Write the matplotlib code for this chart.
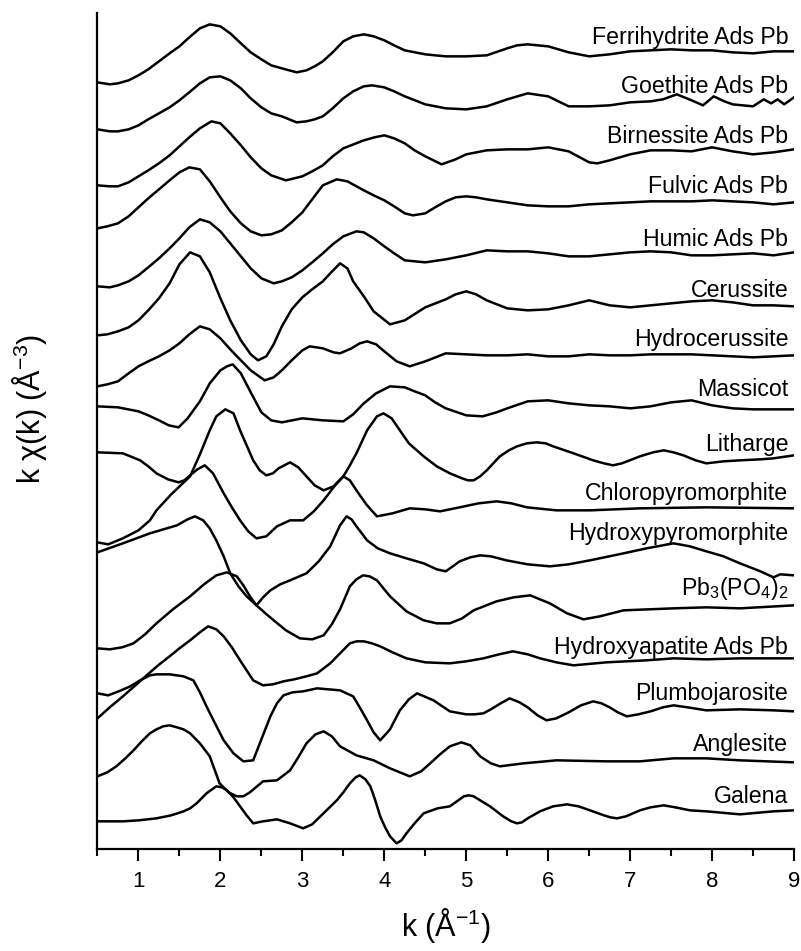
import matplotlib
matplotlib.use("Agg")
import matplotlib.pyplot as plt
from matplotlib.ticker import MultipleLocator

plt.rcParams["font.family"] = ["Liberation Sans", "DejaVu Sans"]
plt.rcParams["mathtext.default"] = "regular"

# stacked k*chi(k) spectra (arbitrary units, offsets included)
ferri_k = [0.5, 0.65, 0.75, 0.88, 1.0, 1.12, 1.25, 1.38, 1.5, 1.62, 1.75, 1.87, 2.0, 2.12, 2.25, 2.37, 2.5, 2.62, 2.75, 2.93,
           3.05, 3.15, 3.25, 3.37, 3.5, 3.62, 3.75, 3.87, 4.0, 4.12, 4.25, 4.5, 4.75, 5.0, 5.25, 5.5, 5.62, 5.75, 5.87, 6.0,
           6.25, 6.5, 6.75, 7.0, 7.25, 7.5, 7.75, 8.0, 8.25, 8.5, 8.75, 9.0]
ferri_y = [7.67, 7.65, 7.66, 7.69, 7.74, 7.80, 7.88, 7.96, 8.03, 8.12, 8.21, 8.25, 8.23, 8.16, 8.06, 7.97, 7.90, 7.84, 7.81, 7.77,
           7.79, 7.83, 7.88, 7.97, 8.08, 8.13, 8.15, 8.13, 8.09, 8.04, 7.99, 7.95, 7.93, 7.93, 7.94, 8.01, 8.04, 8.05, 8.04, 8.03,
           7.97, 7.93, 7.95, 7.98, 7.99, 8.00, 7.99, 7.99, 7.97, 7.96, 7.98, 7.98]

goeth_k = [0.5, 0.65, 0.75, 0.88, 1.0, 1.12, 1.25, 1.38, 1.5, 1.62, 1.75, 1.87, 2.0, 2.12, 2.25, 2.37, 2.5, 2.62, 2.75, 2.93,
           3.05, 3.15, 3.25, 3.37, 3.5, 3.62, 3.75, 3.85, 4.0, 4.12, 4.25, 4.5, 4.75, 5.0, 5.25, 5.5, 5.75, 6.0, 6.25, 6.5,
           6.75, 7.0, 7.25, 7.4, 7.57, 7.75, 7.89, 8.02, 8.15, 8.25, 8.5, 8.63, 8.72, 8.8, 8.88, 9.0]
goeth_y = [7.20, 7.18, 7.18, 7.20, 7.24, 7.30, 7.36, 7.42, 7.49, 7.57, 7.66, 7.72, 7.73, 7.69, 7.61, 7.51, 7.42, 7.36, 7.33, 7.27,
           7.28, 7.30, 7.33, 7.41, 7.51, 7.58, 7.63, 7.64, 7.62, 7.58, 7.53, 7.45, 7.41, 7.40, 7.43, 7.50, 7.56, 7.53, 7.43, 7.43,
           7.44, 7.47, 7.48, 7.50, 7.55, 7.49, 7.44, 7.53, 7.48, 7.45, 7.43, 7.50, 7.46, 7.50, 7.45, 7.52]

birn_k = [0.5, 0.65, 0.75, 0.88, 1.0, 1.12, 1.25, 1.38, 1.5, 1.62, 1.75, 1.89, 2.0, 2.12, 2.25, 2.37, 2.5, 2.62, 2.8, 3.0,
          3.12, 3.25, 3.37, 3.5, 3.75, 3.88, 4.0, 4.12, 4.25, 4.37, 4.5, 4.7, 4.87, 5.0, 5.25, 5.5, 5.75, 6.0, 6.25, 6.5,
          6.6, 6.75, 7.0, 7.25, 7.5, 7.75, 8.0, 8.25, 8.5, 8.75, 9.0]
birn_y = [6.64, 6.63, 6.63, 6.67, 6.73, 6.79, 6.86, 6.94, 7.03, 7.12, 7.21, 7.28, 7.26, 7.16, 7.04, 6.92, 6.81, 6.74, 6.69, 6.73,
          6.78, 6.84, 6.93, 7.01, 7.09, 7.12, 7.14, 7.11, 7.06, 6.99, 6.93, 6.85, 6.90, 6.95, 6.99, 7.00, 7.00, 7.02, 6.98, 6.87,
          6.86, 6.89, 6.95, 6.99, 6.99, 6.98, 7.02, 6.98, 6.95, 6.97, 7.00]

fulvic_k = [0.5, 0.62, 0.75, 0.88, 1.0, 1.12, 1.25, 1.38, 1.5, 1.62, 1.75, 1.87, 2.0, 2.12, 2.25, 2.37, 2.5, 2.62, 2.75, 2.87,
            3.0, 3.12, 3.25, 3.42, 3.55, 3.75, 3.87, 4.0, 4.12, 4.25, 4.35, 4.5, 4.62, 4.75, 4.87, 5.0, 5.12, 5.25, 5.5, 5.75,
            6.0, 6.25, 6.5, 6.75, 7.0, 7.25, 7.5, 7.75, 8.0, 8.25, 8.5, 8.75, 9.0]
fulvic_y = [6.21, 6.23, 6.26, 6.33, 6.42, 6.51, 6.60, 6.69, 6.77, 6.82, 6.80, 6.68, 6.52, 6.38, 6.26, 6.18, 6.14, 6.15, 6.19, 6.27,
            6.37, 6.50, 6.64, 6.70, 6.68, 6.59, 6.54, 6.49, 6.43, 6.36, 6.34, 6.36, 6.42, 6.48, 6.52, 6.53, 6.52, 6.50, 6.47, 6.44,
            6.43, 6.43, 6.45, 6.46, 6.47, 6.48, 6.48, 6.48, 6.49, 6.48, 6.47, 6.45, 6.47]

humic_k = [0.5, 0.65, 0.75, 0.88, 1.0, 1.12, 1.25, 1.38, 1.5, 1.62, 1.75, 1.87, 2.0, 2.12, 2.25, 2.37, 2.5, 2.65, 2.75, 2.87,
           3.0, 3.12, 3.25, 3.37, 3.5, 3.66, 3.75, 3.87, 4.0, 4.12, 4.25, 4.5, 4.75, 5.0, 5.25, 5.5, 5.75, 6.0, 6.25, 6.5,
           6.75, 7.0, 7.25, 7.5, 7.75, 8.0, 8.25, 8.5, 8.75, 9.0]
humic_y = [5.63, 5.62, 5.64, 5.68, 5.74, 5.82, 5.91, 6.01, 6.11, 6.22, 6.30, 6.27, 6.18, 6.06, 5.93, 5.81, 5.71, 5.66, 5.68, 5.72,
           5.79, 5.87, 5.96, 6.05, 6.13, 6.18, 6.17, 6.11, 6.03, 5.96, 5.89, 5.87, 5.90, 5.94, 5.99, 5.98, 5.98, 5.96, 5.93, 5.93,
           5.95, 5.97, 5.98, 5.97, 5.94, 5.94, 5.95, 5.96, 5.94, 5.97]

ceru_k = [0.5, 0.62, 0.75, 0.88, 1.0, 1.12, 1.25, 1.38, 1.5, 1.63, 1.75, 1.87, 2.0, 2.12, 2.25, 2.37, 2.46, 2.56, 2.65, 2.75,
          2.87, 3.0, 3.12, 3.25, 3.34, 3.46, 3.55, 3.62, 3.75, 3.87, 4.07, 4.25, 4.5, 4.75, 4.87, 5.0, 5.12, 5.25, 5.5, 5.75,
          6.0, 6.25, 6.5, 6.75, 7.0, 7.25, 7.5, 7.75, 8.0, 8.25, 8.5, 8.75, 9.0]
ceru_y = [5.14, 5.15, 5.18, 5.22, 5.29, 5.39, 5.51, 5.66, 5.85, 5.97, 5.93, 5.77, 5.51, 5.29, 5.09, 4.95, 4.89, 4.93, 5.05, 5.23,
          5.40, 5.52, 5.60, 5.68, 5.76, 5.86, 5.81, 5.68, 5.53, 5.38, 5.25, 5.29, 5.42, 5.50, 5.55, 5.58, 5.55, 5.49, 5.41, 5.39,
          5.40, 5.44, 5.49, 5.44, 5.42, 5.44, 5.46, 5.48, 5.49, 5.47, 5.44, 5.44, 5.43]

hceru_k = [0.5, 0.62, 0.75, 0.88, 1.0, 1.12, 1.25, 1.38, 1.5, 1.62, 1.75, 1.87, 2.0, 2.12, 2.25, 2.37, 2.54, 2.65, 2.75, 2.87,
           3.0, 3.09, 3.25, 3.38, 3.46, 3.6, 3.7, 3.79, 3.9, 4.0, 4.15, 4.31, 4.5, 4.75, 5.0, 5.25, 5.5, 5.75, 6.0, 6.25,
           6.5, 6.75, 7.0, 7.25, 7.5, 7.75, 8.0, 8.25, 8.5, 8.75, 9.0]
hceru_y = [4.63, 4.65, 4.68, 4.76, 4.83, 4.88, 4.93, 4.99, 5.06, 5.15, 5.23, 5.20, 5.11, 5.00, 4.89, 4.79, 4.69, 4.72, 4.79, 4.89,
           4.99, 5.03, 5.01, 4.97, 4.96, 5.01, 5.06, 5.08, 5.05, 4.98, 4.88, 4.83, 4.88, 4.96, 4.95, 4.94, 4.94, 4.95, 4.93, 4.93,
           4.95, 4.94, 4.94, 4.95, 4.95, 4.95, 4.94, 4.93, 4.92, 4.93, 4.94]

massi_k = [0.5, 0.75, 1.0, 1.12, 1.25, 1.37, 1.49, 1.6, 1.75, 1.87, 2.0, 2.08, 2.15, 2.25, 2.37, 2.5, 2.62, 2.75, 3.0, 3.25,
           3.5, 3.62, 3.75, 3.9, 4.07, 4.25, 4.37, 4.5, 4.62, 4.75, 5.0, 5.2, 5.37, 5.5, 5.75, 6.0, 6.25, 6.5, 6.75, 7.0,
           7.25, 7.5, 7.75, 8.0, 8.25, 8.5, 8.75, 9.0]
massi_y = [4.43, 4.42, 4.38, 4.34, 4.29, 4.24, 4.22, 4.31, 4.48, 4.66, 4.79, 4.83, 4.85, 4.76, 4.57, 4.37, 4.29, 4.27, 4.31, 4.29,
           4.28, 4.35, 4.46, 4.56, 4.63, 4.62, 4.58, 4.54, 4.47, 4.41, 4.34, 4.33, 4.37, 4.41, 4.48, 4.49, 4.46, 4.44, 4.43, 4.41,
           4.43, 4.47, 4.49, 4.44, 4.41, 4.40, 4.40, 4.40]

lith_k = [0.5, 0.63, 0.81, 1.0, 1.14, 1.22, 1.4, 1.63, 1.75, 1.87, 1.95, 2.06, 2.16, 2.24, 2.32, 2.4, 2.48, 2.56, 2.64, 2.71,
          2.85, 2.95, 3.05, 3.15, 3.26, 3.38, 3.5, 3.58, 3.66, 3.79, 3.91, 3.99, 4.09, 4.19, 4.3, 4.48, 4.64, 4.8, 4.95, 5.02,
          5.09, 5.17, 5.25, 5.41, 5.52, 5.62, 5.74, 5.86, 5.97, 6.06, 6.31, 6.55, 6.68, 6.79, 6.9, 7.12, 7.28, 7.41, 7.53, 7.65,
          7.8, 7.93, 8.14, 8.34, 8.59, 8.75, 9.0]
lith_y = [3.07, 3.05, 3.11, 3.19, 3.29, 3.39, 3.55, 3.73, 3.95, 4.19, 4.33, 4.40, 4.36, 4.19, 4.04, 3.89, 3.79, 3.74, 3.76, 3.81,
          3.87, 3.82, 3.73, 3.64, 3.59, 3.63, 3.73, 3.84, 3.96, 4.19, 4.33, 4.36, 4.31, 4.19, 4.06, 3.93, 3.83, 3.76, 3.71, 3.69,
          3.69, 3.73, 3.79, 3.93, 3.99, 4.03, 4.06, 4.07, 4.06, 4.03, 3.96, 3.89, 3.86, 3.84, 3.86, 3.93, 3.97, 3.99, 3.97, 3.94,
          3.89, 3.86, 3.88, 3.89, 3.90, 3.91, 3.94]

chloro_k = [0.5, 0.81, 1.02, 1.12, 1.22, 1.36, 1.49, 1.56, 1.63, 1.72, 1.81, 1.91, 2.04, 2.14, 2.24, 2.34, 2.44, 2.56, 2.69, 2.85,
            3.01, 3.14, 3.26, 3.38, 3.5, 3.58, 3.66, 3.78, 3.91, 4.1, 4.31, 4.5, 4.68, 4.92, 5.15, 5.37, 5.55, 5.74, 6.1, 6.51,
            7.12, 7.93, 9.0]
chloro_y = [3.97, 3.96, 3.89, 3.83, 3.76, 3.70, 3.67, 3.69, 3.74, 3.80, 3.84, 3.76, 3.56, 3.42, 3.29, 3.18, 3.11, 3.13, 3.23, 3.29,
            3.29, 3.38, 3.49, 3.62, 3.73, 3.69, 3.59, 3.45, 3.33, 3.36, 3.41, 3.40, 3.38, 3.42, 3.46, 3.48, 3.46, 3.42, 3.39, 3.39,
            3.41, 3.42, 3.41]

hpyro_k = [0.5, 0.81, 1.14, 1.47, 1.6, 1.69, 1.79, 1.87, 1.95, 2.04, 2.12, 2.22, 2.32, 2.44, 2.52, 2.61, 2.73, 2.85, 3.05, 3.2,
           3.34, 3.46, 3.54, 3.6, 3.66, 3.79, 3.92, 4.07, 4.27, 4.48, 4.64, 4.75, 4.92, 5.05, 5.17, 5.3, 5.49, 5.75, 6.02, 6.25,
           6.51, 6.92, 7.2, 7.53, 7.73, 7.93, 8.14, 8.34, 8.59, 8.75, 8.83, 9.0]
hpyro_y = [2.97, 3.06, 3.16, 3.24, 3.30, 3.33, 3.29, 3.21, 3.09, 2.93, 2.76, 2.63, 2.53, 2.44, 2.52, 2.59, 2.65, 2.69, 2.76, 2.88,
           3.03, 3.24, 3.33, 3.30, 3.23, 3.09, 3.01, 2.96, 2.91, 2.86, 2.80, 2.78, 2.88, 2.92, 2.94, 2.93, 2.89, 2.85, 2.83, 2.85,
           2.89, 2.96, 3.01, 3.06, 3.03, 2.98, 2.93, 2.86, 2.78, 2.72, 2.75, 2.74]

pbpo_k = [0.5, 0.65, 0.8, 0.94, 1.08, 1.22, 1.42, 1.63, 1.8, 1.95, 2.08, 2.2, 2.28, 2.36, 2.44, 2.55, 2.65, 2.8, 2.97, 3.12,
          3.26, 3.36, 3.46, 3.58, 3.66, 3.74, 3.82, 3.91, 4.07, 4.27, 4.48, 4.64, 4.8, 4.95, 5.09, 5.37, 5.58, 5.78, 6.02, 6.23,
          6.43, 6.63, 6.92, 7.53, 7.93, 8.34, 9.0]
pbpo_y = [2.01, 2.00, 2.02, 2.06, 2.15, 2.26, 2.40, 2.53, 2.65, 2.74, 2.77, 2.73, 2.64, 2.53, 2.44, 2.36, 2.29, 2.19, 2.11, 2.10,
          2.14, 2.25, 2.40, 2.63, 2.70, 2.74, 2.73, 2.69, 2.53, 2.38, 2.29, 2.26, 2.26, 2.31, 2.39, 2.48, 2.52, 2.54, 2.46, 2.36,
          2.30, 2.33, 2.39, 2.41, 2.42, 2.41, 2.44]

hap_k = [0.5, 0.65, 0.81, 0.95, 1.1, 1.24, 1.38, 1.5, 1.63, 1.75, 1.85, 1.95, 2.04, 2.14, 2.24, 2.32, 2.4, 2.52, 2.64, 2.77,
         2.9, 3.05, 3.18, 3.34, 3.46, 3.58, 3.66, 3.75, 3.85, 3.95, 4.1, 4.27, 4.5, 4.8, 5.0, 5.21, 5.4, 5.57, 5.75, 5.9,
         6.1, 6.31, 6.71, 7.2, 7.53, 7.93, 8.34, 9.0]
hap_y = [1.31, 1.42, 1.53, 1.63, 1.74, 1.84, 1.93, 2.01, 2.09, 2.17, 2.23, 2.20, 2.13, 2.02, 1.89, 1.79, 1.69, 1.64, 1.65, 1.68,
         1.70, 1.73, 1.76, 1.86, 1.96, 2.06, 2.08, 2.08, 2.06, 2.03, 1.97, 1.91, 1.87, 1.86, 1.88, 1.91, 1.95, 1.98, 1.95, 1.91,
         1.87, 1.84, 1.87, 1.89, 1.91, 1.90, 1.91, 1.91]

plumbo_k = [0.5, 0.63, 0.76, 0.9, 1.02, 1.14, 1.22, 1.38, 1.55, 1.67, 1.75, 1.83, 1.94, 2.04, 2.16, 2.28, 2.4, 2.5, 2.61, 2.69,
            2.77, 2.88, 3.01, 3.18, 3.32, 3.46, 3.62, 3.7, 3.79, 3.87, 3.95, 4.07, 4.19, 4.3, 4.4, 4.6, 4.8, 5.0, 5.1, 5.21,
            5.3, 5.42, 5.53, 5.65, 5.75, 5.87, 5.98, 6.1, 6.25, 6.4, 6.55, 6.65, 6.75, 6.85, 6.96, 7.1, 7.25, 7.4, 7.53, 7.7,
            7.93, 8.34, 8.75, 9.0]
plumbo_y = [1.56, 1.54, 1.58, 1.63, 1.69, 1.74, 1.75, 1.75, 1.73, 1.69, 1.57, 1.43, 1.25, 1.09, 0.96, 0.88, 0.89, 1.10, 1.33, 1.46,
            1.54, 1.57, 1.58, 1.61, 1.60, 1.59, 1.53, 1.42, 1.29, 1.17, 1.09, 1.20, 1.39, 1.50, 1.56, 1.49, 1.38, 1.35, 1.35, 1.36,
            1.40, 1.46, 1.51, 1.47, 1.42, 1.34, 1.29, 1.31, 1.37, 1.44, 1.48, 1.46, 1.42, 1.37, 1.33, 1.35, 1.38, 1.42, 1.44, 1.42,
            1.39, 1.40, 1.39, 1.38]

angle_k = [0.5, 0.62, 0.73, 0.84, 0.94, 1.04, 1.14, 1.22, 1.3, 1.38, 1.47, 1.55, 1.63, 1.75, 1.87, 1.99, 2.1, 2.2, 2.28, 2.36,
           2.52, 2.69, 2.85, 2.95, 3.05, 3.16, 3.26, 3.36, 3.46, 3.66, 3.87, 4.07, 4.31, 4.45, 4.56, 4.68, 4.8, 4.94, 5.05, 5.17,
           5.3, 5.41, 5.7, 6.1, 6.71, 7.12, 7.53, 7.93, 8.34, 9.0]
angle_y = [0.73, 0.77, 0.83, 0.91, 0.99, 1.08, 1.16, 1.20, 1.23, 1.24, 1.22, 1.20, 1.16, 1.06, 0.93, 0.66, 0.57, 0.53, 0.53, 0.57,
           0.68, 0.69, 0.79, 0.92, 1.06, 1.15, 1.18, 1.13, 1.03, 0.94, 0.89, 0.81, 0.73, 0.78, 0.86, 0.95, 1.03, 1.07, 1.04, 0.93,
           0.86, 0.83, 0.86, 0.89, 0.88, 0.88, 0.91, 0.91, 0.89, 0.87]

galena_k = [0.5, 0.81, 1.0, 1.22, 1.4, 1.55, 1.63, 1.71, 1.83, 1.95, 2.02, 2.08, 2.16, 2.24, 2.32, 2.4, 2.52, 2.69, 2.85, 3.01,
            3.12, 3.22, 3.32, 3.42, 3.5, 3.58, 3.65, 3.7, 3.77, 3.83, 3.89, 3.95, 4.01, 4.07, 4.15, 4.21, 4.27, 4.37, 4.48, 4.65,
            4.8, 4.92, 4.97, 5.03, 5.09, 5.15, 5.29, 5.45, 5.55, 5.62, 5.68, 5.75, 5.9, 6.06, 6.23, 6.37, 6.51, 6.68, 6.76, 6.84,
            6.95, 7.12, 7.25, 7.41, 7.55, 7.73, 7.93, 8.34, 8.75, 9.0]
galena_y = [0.28, 0.28, 0.29, 0.31, 0.34, 0.38, 0.41, 0.46, 0.56, 0.63, 0.62, 0.59, 0.52, 0.43, 0.34, 0.26, 0.28, 0.30, 0.26, 0.21,
            0.25, 0.33, 0.41, 0.49, 0.57, 0.66, 0.72, 0.74, 0.70, 0.63, 0.49, 0.33, 0.22, 0.13, 0.06, 0.09, 0.16, 0.26, 0.36, 0.41,
            0.43, 0.50, 0.53, 0.54, 0.53, 0.50, 0.43, 0.33, 0.28, 0.26, 0.27, 0.31, 0.38, 0.43, 0.45, 0.43, 0.39, 0.34, 0.32, 0.31,
            0.33, 0.39, 0.42, 0.44, 0.42, 0.39, 0.38, 0.35, 0.38, 0.39]

names = ["Ferrihydrite Ads Pb", "Goethite Ads Pb", "Birnessite Ads Pb", "Fulvic Ads Pb", "Humic Ads Pb",
         "Cerussite", "Hydrocerussite", "Massicot", "Litharge", "Chloropyromorphite", "Hydroxypyromorphite",
         r"Pb$_3$(PO$_4$)$_2$", "Hydroxyapatite Ads Pb", "Plumbojarosite", "Anglesite", "Galena"]
label_y = [8.05, 7.56, 7.06, 6.56, 6.03, 5.52, 5.03, 4.53, 3.98, 3.49, 3.09, 2.54, 1.95, 1.49, 0.98, 0.46]

spectra = [(ferri_k, ferri_y), (goeth_k, goeth_y), (birn_k, birn_y), (fulvic_k, fulvic_y), (humic_k, humic_y),
           (ceru_k, ceru_y), (hceru_k, hceru_y), (massi_k, massi_y), (lith_k, lith_y), (chloro_k, chloro_y),
           (hpyro_k, hpyro_y), (pbpo_k, pbpo_y), (hap_k, hap_y), (plumbo_k, plumbo_y), (angle_k, angle_y),
           (galena_k, galena_y)]

fig = plt.figure(figsize=(8.01, 9.51), dpi=100)
ax = fig.add_axes([0.1217, 0.1069, 0.8696, 0.8797])

for (k, y), name, ly in zip(spectra, names, label_y):
    ax.plot(k, y, color="black", lw=1.8, solid_joinstyle="round")
    ax.text(8.93, ly, name, ha="right", va="baseline", fontsize=16.7)

ax.set_xlim(0.5, 9.0)
ax.set_ylim(0, 8.366)
ax.set_yticks([])
ax.xaxis.set_major_locator(MultipleLocator(1))
ax.xaxis.set_minor_locator(MultipleLocator(0.5))
ax.tick_params(axis="x", which="major", direction="out", length=8.5, width=1.5, labelsize=16, pad=7)
ax.tick_params(axis="x", which="minor", direction="out", length=5, width=1.5)

for side in ["top", "right"]:
    ax.spines[side].set_visible(False)
for side in ["left", "bottom"]:
    ax.spines[side].set_linewidth(1.6)

ax.set_xlabel(r"k (Å$^{-1}$)", fontsize=22, labelpad=10)
ax.set_ylabel(r"k χ(k) (Å$^{-3}$)", fontsize=22)
ax.yaxis.set_label_coords(-0.07, 0.527)

fig.savefig("out.png", dpi=100)
